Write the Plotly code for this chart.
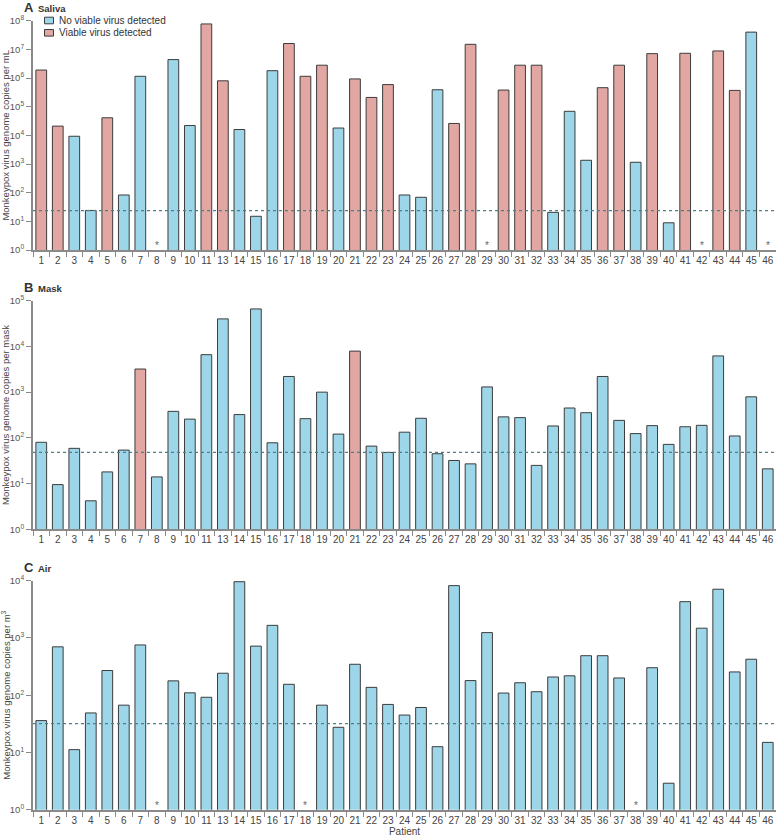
import plotly.graph_objects as go

patients = [str(i) for i in range(1, 12)] + [str(i) for i in range(13, 47)]

# Saliva (copies per mL); None = not available (*)
saliva = [1.9e6, 2.1e4, 9.3e3, 24, 4.1e4, 83, 1.15e6, None, 4.4e6, 2.2e4,
          7.7e7, 8.0e5, 1.6e4, 15, 1.8e6, 1.6e7, 1.15e6, 2.8e6, 1.8e4, 9.3e5,
          2.1e5, 5.9e5, 83, 69, 3.9e5, 2.6e4, 1.5e7, None, 3.8e5, 2.8e6,
          2.8e6, 20.6, 6.9e4, 1.35e3, 4.6e5, 2.8e6, 1.15e3, 7.1e6, 8.9, 7.3e6,
          None, 8.8e6, 3.7e5, 4.0e7, None]
saliva_viable = [1, 1, 0, 0, 1, 0, 0, 0, 0, 0,
                 1, 1, 0, 0, 0, 1, 1, 1, 0, 1,
                 1, 1, 0, 0, 0, 1, 1, 0, 1, 1,
                 1, 0, 0, 0, 1, 1, 0, 1, 0, 1,
                 0, 1, 1, 0, 0]

# Mask (copies per mask)
mask = [80, 9.5, 59, 4.2, 18, 54, 3.2e3, 14, 380, 257,
        6.6e3, 4.0e4, 323, 6.6e4, 78, 2.2e3, 263, 1.0e3, 121, 7.9e3,
        66, 48, 133, 268, 45, 32, 27, 1.3e3, 288, 277,
        25, 182, 450, 355, 2.2e3, 241, 124, 185, 72, 175,
        188, 6.2e3, 110, 790, 21]
mask_viable = [0, 0, 0, 0, 0, 0, 1, 0, 0, 0,
               0, 0, 0, 0, 0, 0, 0, 0, 0, 1,
               0, 0, 0, 0, 0, 0, 0, 0, 0, 0,
               0, 0, 0, 0, 0, 0, 0, 0, 0, 0,
               0, 0, 0, 0, 0]

# Air (copies per m3)
air = [36, 700, 11.2, 49, 270, 67, 755, None, 178, 110,
       92, 242, 9.6e3, 720, 1.66e3, 155, None, 67, 27.5, 347,
       137, 69, 45, 61, 12.6, 8.2e3, 180, 1.24e3, 109, 165,
       115, 208, 218, 490, 490, 200, None, 302, 2.9, 4.3e3,
       1.48e3, 7.1e3, 255, 425, 15]
air_viable = [0] * 45

lod = {"saliva": 23.5, "mask": 48, "air": 32}
legend_names = ["No viable virus detected", "Viable virus detected"]

BLUE = "#9dd6e8"
RED = "#e2a7a2"
W, H = 776, 838
ML = 33
PW = W - ML

panels = [
    ("A", "Saliva", saliva, saliva_viable, lod["saliva"], 8,
     "Monkeypox virus genome copies per mL", (20.7, 250.0)),
    ("B", "Mask", mask, mask_viable, lod["mask"], 5,
     "Monkeypox virus genome copies per mask", (300.7, 529.3)),
    ("C", "Air", air, air_viable, lod["air"], 4,
     "Monkeypox virus genome copies per m<sup>3</sup>", (580.7, 809.7)),
]

FONT = "Liberation Sans, Arial, sans-serif"


def px(x):
    return (x - ML) / PW


def py(y):
    return 1 - y / H


fig = go.Figure()
annotations = []
shapes = []
for k, (letter, name, vals, viable, lodv, ymax, ytitle, (ptop, pbot)) in enumerate(panels):
    ax = "" if k == 0 else str(k + 1)
    xa, ya = "x" + ax, "y" + ax
    blue_y = [v if (v is not None and not f) else None for v, f in zip(vals, viable)]
    red_y = [v if (v is not None and f) else None for v, f in zip(vals, viable)]
    fig.add_trace(go.Bar(x=patients, y=blue_y, marker_color=BLUE,
                         marker_line=dict(color="#3c3c3c", width=1),
                         name=legend_names[0], showlegend=False,
                         xaxis=xa, yaxis=ya))
    fig.add_trace(go.Bar(x=patients, y=red_y, marker_color=RED,
                         marker_line=dict(color="#3c3c3c", width=1),
                         name=legend_names[1], showlegend=False,
                         xaxis=xa, yaxis=ya))
    dom = [py(pbot), py(ptop)]
    tv = [10 ** i for i in range(ymax + 1)]
    tt = ["10<sup>%d</sup>" % i for i in range(ymax + 1)]
    fig.update_layout(**{
        "xaxis" + ax: dict(domain=[0, 1], anchor=ya, type="category",
                           categoryorder="array", categoryarray=patients,
                           range=[-0.5, len(patients) - 0.5],
                           showline=True, linecolor="#8a8a8a", linewidth=2,
                           ticks="outside", tickson="boundaries", ticklen=5,
                           tickcolor="#8a8a8a", tickwidth=1, tickangle=0,
                           automargin=False,
                           tickfont=dict(size=10, color="#444", family=FONT),
                           showgrid=False, zeroline=False, fixedrange=True,
                           title=dict(text="Patient" if k == 2 else "",
                                      font=dict(size=10, color="#444", family=FONT),
                                      standoff=2)),
        "yaxis" + ax: dict(domain=dom, anchor=xa, type="log", range=[0, ymax],
                           tickvals=tv, ticktext=tt,
                           showline=True, linecolor="#8a8a8a", linewidth=2,
                           ticks="outside", ticklen=5, tickcolor="#8a8a8a",
                           tickfont=dict(size=9.5, color="#555", family=FONT),
                           showgrid=False, zeroline=False, automargin=False,
                           fixedrange=True,
                           title=dict(text=ytitle, standoff=2,
                                      font=dict(size=9.5, color="#444", family=FONT))),
    })
    shapes.append(dict(type="line", xref=xa + " domain", yref=ya,
                       x0=0, x1=1, y0=lodv, y1=lodv,
                       line=dict(color="#4f7f86", width=1.3, dash="dot")))
    for i, v in enumerate(vals):
        if v is None:
            annotations.append(dict(x=i, y=0, xref=xa, yref=ya, text="*",
                                    showarrow=False, yanchor="bottom", yshift=-3,
                                    font=dict(size=10, color="#666", family=FONT)))
    annotations.append(dict(x=px(22), y=py(ptop - 13.5), xref="paper", yref="paper",
                            text="<b>" + letter + "</b>",
                            showarrow=False, xanchor="left", yanchor="middle",
                            font=dict(size=13, color="#333", family=FONT)))
    annotations.append(dict(x=px(36), y=py(ptop - 12.5), xref="paper", yref="paper",
                            text="<b>" + name + "</b>",
                            showarrow=False, xanchor="left", yanchor="middle",
                            font=dict(size=9.5, color="#333", family=FONT)))

# custom legend (panel A)
for j, (nm, col) in enumerate(zip(legend_names, [BLUE, RED])):
    yc = 20.5 + j * 12.3
    shapes.append(dict(type="rect", xref="paper", yref="paper",
                       x0=px(44.5), x1=px(53.5), y0=py(yc + 3.3), y1=py(yc - 3.3),
                       fillcolor=col, line=dict(color="#3c3c3c", width=1)))
    annotations.append(dict(x=px(56.5), y=py(yc), xref="paper", yref="paper",
                            text=nm, showarrow=False, xanchor="left", yanchor="middle",
                            font=dict(size=10, color="#333", family=FONT)))

fig.update_layout(
    width=W, height=H,
    margin=dict(l=ML, r=0, t=0, b=0, autoexpand=False),
    paper_bgcolor="white", plot_bgcolor="white",
    barmode="overlay", bargap=0.35,
    font=dict(family=FONT, color="#333"),
    shapes=shapes, annotations=annotations,
    showlegend=False, hovermode=False,
)

fig.write_html("out.html",
               config={"displayModeBar": False},
               post_script="document.body.style.margin='0px';"
                           "document.body.style.overflow='hidden';")
